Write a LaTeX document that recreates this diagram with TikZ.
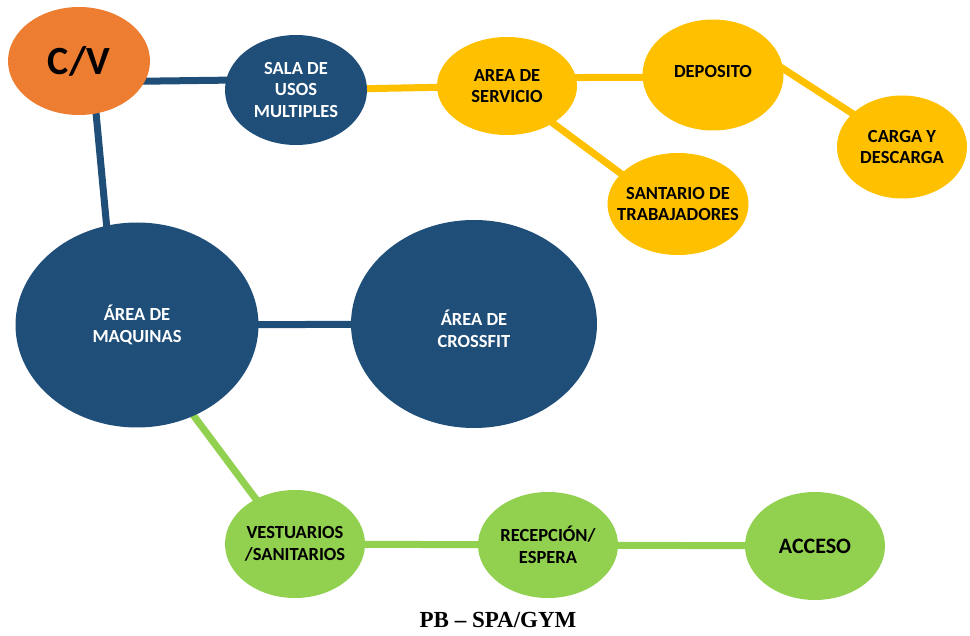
\documentclass[tikz,border=0pt]{standalone}
\usepackage{fontspec}
\usepackage{xcolor}
\usepackage{tikz}
\usetikzlibrary{shapes.geometric,backgrounds}

\newfontfamily\calibrifont{Carlito}
\newfontfamily\timesfont{Liberation Serif}

\definecolor{cvorange}{HTML}{ED7D31}
\definecolor{zoneblue}{HTML}{1F4E79}
\definecolor{zoneyellow}{HTML}{FFC000}
\definecolor{zonegreen}{HTML}{92D050}

\tikzset{
    zone/.style={shape=ellipse, inner xsep=-25pt, inner ysep=0pt, align=center,
        font=\calibrifont\bfseries\fontsize{18.5}{21.5}\selectfont},
    bluezone/.style={zone, fill=zoneblue, text=white},
    yellowzone/.style={zone, fill=zoneyellow, text=black},
    greenzone/.style={zone, fill=zonegreen, text=black},
    link/.style={line width=7pt, shorten <=-4pt, shorten >=-4pt},
}

\begin{document}
\begin{tikzpicture}[x=1pt,y=-1pt]
    \useasboundingbox (0,0) rectangle (970,636);

    \node[zone, fill=cvorange, minimum width=142pt, minimum height=108pt,
        font=\calibrifont\bfseries\fontsize{40}{48}\selectfont] (cv) at (79,61) {C/V};
    \node[bluezone, minimum width=142pt, minimum height=110pt] (sala) at (296,90) {SALA DE\\USOS\\MULTIPLES};
    \node[bluezone, minimum width=243pt, minimum height=205pt] (maq) at (137,325) {ÁREA DE\\MAQUINAS};
    \node[bluezone, minimum width=246pt, minimum height=208pt] (cross) at (474,324) {\\[4pt]ÁREA DE\\CROSSFIT};

    \node[yellowzone, minimum width=140pt, minimum height=98pt] (area) at (507,86) {AREA DE\\SERVICIO};
    \node[yellowzone, minimum width=141pt, minimum height=111pt] (dep) at (713,75) {\raisebox{7pt}{DEPOSITO}};
    \node[yellowzone, minimum width=130pt, minimum height=103pt] (carga) at (902,147) {CARGA Y\\DESCARGA};
    \node[yellowzone, minimum width=141pt, minimum height=102pt] (sant) at (678,204) {SANTARIO DE\\TRABAJADORES};

    \node[greenzone, minimum width=140pt, minimum height=108pt] (vest) at (295,544) {VESTUARIOS\\/SANITARIOS};
    \node[greenzone, minimum width=140pt, minimum height=106pt] (recep) at (548,545) {RECEPCIÓN/\\ESPERA};
    \node[greenzone, minimum width=140pt, minimum height=108pt,
        font=\calibrifont\bfseries\fontsize{22}{26}\selectfont] (acceso) at (815,546) {ACCESO};

    \node[font=\timesfont\bfseries\fontsize{23}{27}\selectfont] (title) at (498,620) {PB – SPA/GYM};

    \begin{scope}[on background layer]
        \path[link, draw=zoneblue] (cv.-17) edge (sala.172);
        \path[link, draw=zoneblue] (cv.-72) edge (maq.107);
        \path[link, draw=zoneblue] (maq) edge (cross);
        \path[link, draw=zoneyellow] (sala) edge (area);
        \path[link, draw=zoneyellow] (area.7) edge (dep.182);
        \path[link, draw=zoneyellow] (dep.5) edge (carga.146);
        \path[link, draw=zoneyellow] (area.-39) edge (sant.152);
        \path[link, draw=zonegreen] (maq.-58) edge (vest.131);
        \path[link, draw=zonegreen] (vest) edge (recep);
        \path[link, draw=zonegreen] (recep) edge (acceso);
    \end{scope}
\end{tikzpicture}
\end{document}
